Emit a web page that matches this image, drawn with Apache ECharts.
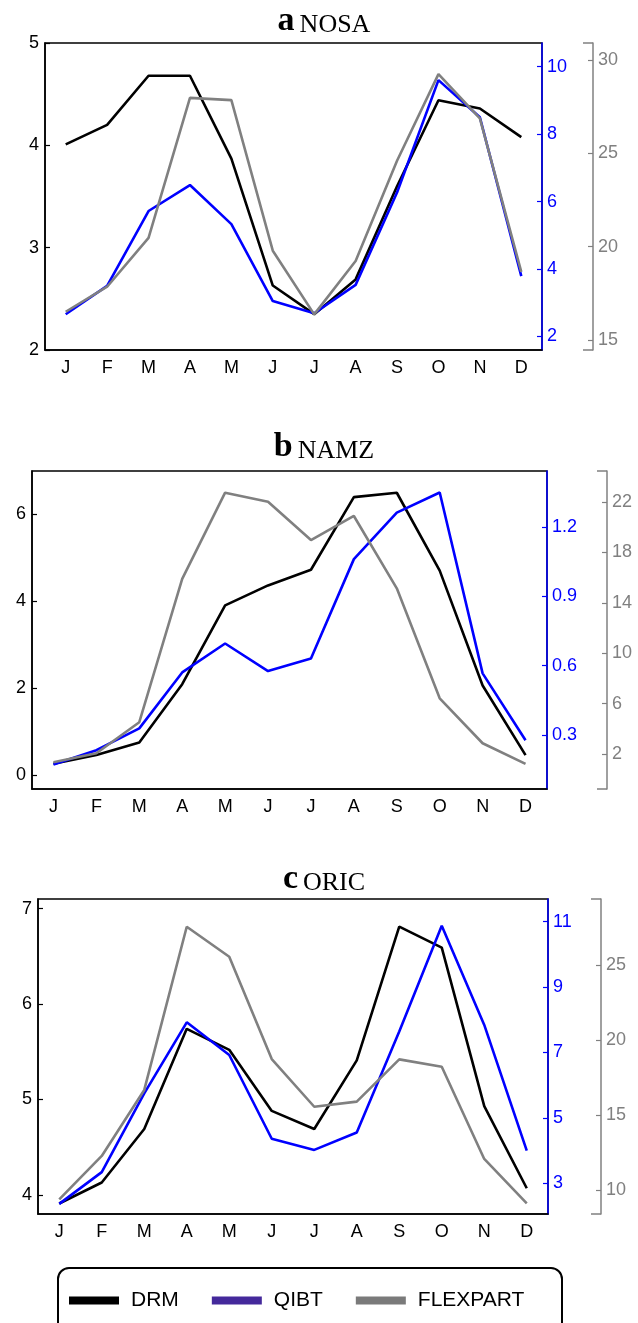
<!DOCTYPE html>
<html>
<head>
<meta charset="utf-8">
<script src="https://cdn.jsdelivr.net/npm/echarts@6/dist/echarts.min.js"></script>
<style>
  html, body { margin: 0; padding: 0; background: #fff; }
  #chart { width: 638px; height: 1323px; }
</style>
</head>
<body>
<div id="chart"></div>
<script>
const MONTHS = ['J', 'F', 'M', 'A', 'M', 'J', 'J', 'A', 'S', 'O', 'N', 'D']
const SERIES_NAMES = ['DRM', 'QIBT', 'FLEXPART']

// a NOSA
const NOSA_DRM = [4.01, 4.20, 4.68, 4.68, 3.87, 2.63, 2.35, 2.69, 3.60, 4.44, 4.36, 4.08]
const NOSA_QIBT = [2.66, 3.50, 5.72, 6.49, 5.33, 3.05, 2.69, 3.53, 6.27, 9.60, 8.50, 3.79]
const NOSA_FLEX = [16.51, 17.85, 20.47, 27.97, 27.85, 19.78, 16.37, 19.23, 24.6, 29.24, 26.87, 18.65]
const NOSA_LEFT_TICKS = [2, 3, 4, 5]
const NOSA_BLUE_TICKS = [2, 4, 6, 8, 10]
const NOSA_GRAY_TICKS = [15, 20, 25, 30]

// b NAMZ
const NAMZ_DRM = [0.27, 0.47, 0.76, 2.10, 3.91, 4.37, 4.73, 6.40, 6.50, 4.71, 2.07, 0.47]
const NAMZ_QIBT = [0.173, 0.235, 0.329, 0.571, 0.696, 0.577, 0.631, 1.061, 1.262, 1.349, 0.567, 0.278]
const NAMZ_FLEX = [1.34, 2.06, 4.52, 15.9, 22.74, 22.02, 18.98, 20.89, 15.15, 6.42, 2.85, 1.21]
const NAMZ_LEFT_TICKS = [0, 2, 4, 6]
const NAMZ_BLUE_TICKS = [0.3, 0.6, 0.9, 1.2]
const NAMZ_GRAY_TICKS = [2, 6, 10, 14, 18, 22]

// c ORIC
const ORIC_DRM = [3.91, 4.13, 4.69, 5.74, 5.52, 4.88, 4.69, 5.41, 6.81, 6.59, 4.93, 4.07]
const ORIC_QIBT = [2.37, 3.34, 5.75, 7.92, 6.92, 4.36, 4.02, 4.55, 7.64, 10.87, 7.84, 4.0]
const ORIC_FLEX = [9.38, 12.27, 16.67, 27.55, 25.55, 18.73, 15.55, 15.89, 18.71, 18.22, 12.07, 9.11]
const ORIC_LEFT_TICKS = [4, 5, 6, 7]
const ORIC_BLUE_TICKS = [3, 5, 7, 9, 11]
const ORIC_GRAY_TICKS = [10, 15, 20, 25]

const COLORS = { DRM: '#000000', QIBT: '#0000ff', FLEXPART: '#808080' }
const LEGEND_QIBT = '#44299b'
const SANS = 'Liberation Sans'
const SERIF = 'Liberation Serif'
const TICK_FONT = 18

const panels = [
  {
    letter: 'a', name: 'NOSA', titleTop: 4,
    grid: { left: 45, top: 43, width: 497, height: 307 },
    left: { min: 2, max: 5, ticks: NOSA_LEFT_TICKS },
    blue: { min: 1.6, max: 10.7, ticks: NOSA_BLUE_TICKS },
    gray: { min: 14.46, max: 30.91, ticks: NOSA_GRAY_TICKS, offset: 51 },
    data: [NOSA_DRM, NOSA_QIBT, NOSA_FLEX],
  },
  {
    letter: 'b', name: 'NAMZ', titleTop: 430,
    grid: { left: 32, top: 471, width: 515, height: 318 },
    left: { min: -0.31, max: 7.0, ticks: NAMZ_LEFT_TICKS },
    blue: { min: 0.067, max: 1.442, ticks: NAMZ_BLUE_TICKS },
    gray: { min: -0.78, max: 24.46, ticks: NAMZ_GRAY_TICKS, offset: 60 },
    data: [NAMZ_DRM, NAMZ_QIBT, NAMZ_FLEX],
  },
  {
    letter: 'c', name: 'ORIC', titleTop: 862,
    grid: { left: 38, top: 899, width: 510, height: 315 },
    left: { min: 3.8, max: 7.1, ticks: ORIC_LEFT_TICKS },
    blue: { min: 2.06, max: 11.69, ticks: ORIC_BLUE_TICKS },
    gray: { min: 8.4, max: 29.4, ticks: ORIC_GRAY_TICKS, offset: 53 },
    data: [ORIC_DRM, ORIC_QIBT, ORIC_FLEX],
  },
]

const title = [], grid = [], xAxis = [], yAxis = [], series = []

panels.forEach((p, i) => {
  title.push({
    text: `{b|${p.letter}} {n|${p.name}}`,
    left: 324,
    textAlign: 'center',
    top: p.titleTop,
    padding: 0,
    textStyle: {
      fontWeight: 'normal',
      rich: {
        b: { fontFamily: SERIF, fontWeight: 'bold', fontSize: 34, color: '#000', verticalAlign: 'bottom' },
        n: { fontFamily: SERIF, fontWeight: 'normal', fontSize: 26, color: '#000', verticalAlign: 'bottom' },
      },
    },
  })

  grid.push({ ...p.grid, show: true, borderColor: '#000', borderWidth: 1.5, backgroundColor: 'transparent' })

  xAxis.push({
    type: 'category',
    gridIndex: i,
    data: MONTHS,
    boundaryGap: true,
    axisLine: { onZero: false, lineStyle: { color: '#000', width: 1.5 } },
    axisTick: { inside: true, alignWithLabel: true, length: 6, lineStyle: { color: '#000', width: 1.2 } },
    axisLabel: { color: '#000', fontFamily: SANS, fontSize: TICK_FONT, margin: 9 },
    splitLine: { show: false },
  })

  // left axis (DRM)
  yAxis.push({
    type: 'value', gridIndex: i, position: 'left',
    min: p.left.min, max: p.left.max,
    axisLine: { show: true, onZero: false, lineStyle: { color: '#000', width: 1.5 } },
    axisTick: { show: true, inside: true, length: 5, customValues: p.left.ticks, lineStyle: { color: '#000', width: 1.2 } },
    axisLabel: { color: '#000', fontFamily: SANS, fontSize: TICK_FONT, margin: 6, customValues: p.left.ticks },
    splitLine: { show: false },
  })
  // right blue axis (QIBT)
  yAxis.push({
    type: 'value', gridIndex: i, position: 'right',
    min: p.blue.min, max: p.blue.max,
    axisLine: { show: true, onZero: false, lineStyle: { color: '#0000ff', width: 1.5 } },
    axisTick: { show: true, inside: true, length: 5, customValues: p.blue.ticks, lineStyle: { color: '#0000ff', width: 1.2 } },
    axisLabel: { color: '#0000ff', fontFamily: SANS, fontSize: TICK_FONT, margin: 5, customValues: p.blue.ticks },
    splitLine: { show: false },
  })
  // outer gray axis (FLEXPART)
  yAxis.push({
    type: 'value', gridIndex: i, position: 'right', offset: p.gray.offset,
    min: p.gray.min, max: p.gray.max,
    axisLine: { show: true, onZero: false, lineStyle: { color: '#808080', width: 1.5 } },
    axisTick: { show: true, inside: true, length: 5, customValues: p.gray.ticks, lineStyle: { color: '#808080', width: 1.2 } },
    axisLabel: { color: '#808080', fontFamily: SANS, fontSize: TICK_FONT, margin: 5, customValues: p.gray.ticks },
    splitLine: { show: false },
  })
  // end caps of the gray axis
  yAxis.push({
    type: 'value', gridIndex: i, position: 'right', offset: p.gray.offset,
    min: p.gray.min, max: p.gray.max,
    axisLine: { show: false },
    axisTick: { show: true, inside: true, length: 10, customValues: [p.gray.min, p.gray.max], lineStyle: { color: '#808080', width: 1.5 } },
    axisLabel: { show: false },
    splitLine: { show: false },
  })

  SERIES_NAMES.forEach((name, k) => {
    series.push({
      name,
      type: 'line',
      xAxisIndex: i,
      yAxisIndex: i * 4 + k,
      data: p.data[k],
      showSymbol: false,
      symbol: 'none',
      lineStyle: { color: COLORS[name], width: 2.6 },
      itemStyle: { color: COLORS[name] },
      z: name === 'QIBT' ? 3 : (name === 'FLEXPART' ? 4 : 2),
    })
  })
})

const chart = echarts.init(document.getElementById('chart'), null, { renderer: 'canvas' })
chart.setOption({
  animation: false,
  backgroundColor: '#fff',
  title,
  grid,
  xAxis,
  yAxis,
  series,
  legend: {
    left: 69,
    top: 1290,
    padding: 0,
    icon: 'rect',
    itemWidth: 50,
    itemHeight: 8,
    itemGap: 33,
    selectedMode: false,
    textStyle: { fontFamily: SANS, fontSize: 21, color: '#000', padding: [0, 0, 0, 7] },
    data: [
      { name: 'DRM', itemStyle: { color: COLORS.DRM } },
      { name: 'QIBT', itemStyle: { color: LEGEND_QIBT } },
      { name: 'FLEXPART', itemStyle: { color: '#7a7a7a' } },
    ],
  },
  graphic: [{
    type: 'rect',
    shape: { x: 58, y: 1268, width: 504, height: 80, r: 11 },
    style: { fill: 'none', stroke: '#000', lineWidth: 2 },
    silent: true,
  }],
})
</script>
</body>
</html>
